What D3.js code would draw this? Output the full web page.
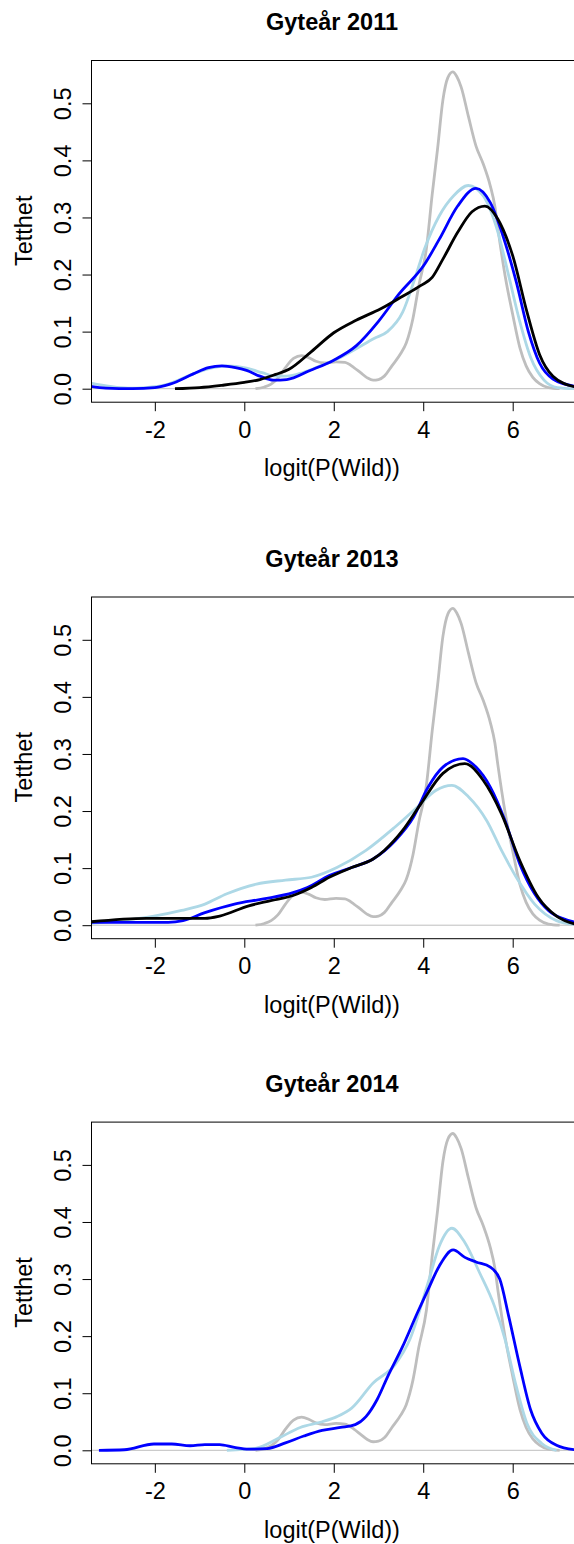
<!DOCTYPE html>
<html>
<head>
<meta charset="utf-8">
<script src="https://cdn.jsdelivr.net/npm/d3@7"></script>
<style>
  body { margin: 0; background: #fff; }
  text { font-family: "Liberation Sans", Arial, sans-serif; }
</style>
</head>
<body>
<div id="chart"></div>
<script>
// values (x = logit(P(Wild)), y = density)
const titles = ['Gyteår 2011', 'Gyteår 2013', 'Gyteår 2014'];
const xTicks = [-2, 0, 2, 4, 6];
const yTicks = [0, 0.1, 0.2, 0.3, 0.4, 0.5];

// grey reference curve, same in every panel
const greyRef = [[0.25,0],[0.45,0.003],[0.6,0.008],[0.75,0.018],[0.92,0.037],[1.1,0.053],[1.28,0.058],
  [1.45,0.054],[1.6,0.048],[1.8,0.045],[2.05,0.047],[2.25,0.046],[2.45,0.037],[2.6,0.028],[2.75,0.019],
  [2.88,0.015],[3.0,0.016],[3.13,0.022],[3.3,0.04],[3.5,0.062],[3.62,0.08],[3.7,0.1],[3.77,0.123],
  [3.9,0.18],[4.07,0.245],[4.2,0.34],[4.32,0.42],[4.44,0.506],[4.55,0.545],[4.66,0.555],[4.75,0.547],
  [4.85,0.528],[5.01,0.477],[5.18,0.425],[5.34,0.394],[5.5,0.355],[5.6,0.32],[5.67,0.28],[5.83,0.198],
  [6.0,0.13],[6.16,0.072],[6.3,0.04],[6.45,0.02],[6.6,0.009],[6.8,0.002],[7.05,0]];

const light2011 = [[-3.43,0.01],[-3.0,0.004],[-2.6,0.001],[-2.2,0.002],[-1.7,0.008],[-1.14,0.026],
  [-0.7,0.037],[-0.39,0.04],[0.05,0.036],[0.4,0.028],[0.7,0.022],[0.95,0.022],[1.3,0.028],[1.7,0.04],
  [2.1,0.053],[2.5,0.07],[2.9,0.088],[3.2,0.1],[3.54,0.134],[3.8,0.19],[4.03,0.245],[4.36,0.303],
  [4.68,0.338],[5.01,0.356],[5.34,0.338],[5.67,0.274],[5.91,0.198],[6.15,0.12],[6.4,0.055],
  [6.7,0.015],[7.0,0.002],[7.4,0]];
const blue2011 = [[-3.43,0.004],[-3.1,0.001],[-2.5,0.0],[-2.0,0.002],[-1.66,0.008],[-1.14,0.026],
  [-0.8,0.037],[-0.5,0.04],[-0.2,0.037],[0.05,0.032],[0.35,0.022],[0.65,0.015],[0.95,0.016],
  [1.47,0.032],[2.0,0.05],[2.5,0.075],[3.0,0.118],[3.46,0.166],[4.03,0.218],[4.36,0.262],[4.77,0.32],
  [5.18,0.351],[5.5,0.326],[5.83,0.256],[6.08,0.187],[6.35,0.1],[6.6,0.045],[6.9,0.017],[7.4,0.004]];
const black2011 = [[-1.55,0.0],[-1.0,0.002],[-0.5,0.006],[0.0,0.011],[0.35,0.016],[0.7,0.025],
  [1.0,0.034],[1.5,0.065],[2.0,0.098],[2.5,0.12],[3.05,0.14],[3.54,0.162],[3.95,0.181],[4.2,0.195],
  [4.44,0.227],[4.77,0.274],[5.09,0.31],[5.38,0.32],[5.67,0.297],[6.0,0.233],[6.32,0.134],
  [6.6,0.06],[6.9,0.022],[7.4,0.003]];

const light2013 = [[-3.43,0.003],[-2.8,0.008],[-2.02,0.016],[-1.4,0.026],[-0.88,0.037],[-0.39,0.055],
  [0.27,0.072],[0.92,0.079],[1.5,0.084],[2.07,0.101],[2.72,0.131],[3.37,0.172],[3.87,0.207],
  [4.28,0.236],[4.64,0.245],[5.01,0.225],[5.42,0.183],[5.75,0.131],[6.08,0.084],[6.49,0.037],
  [6.98,0.008],[7.4,0.001]];
const blue2013 = [[-3.43,0.005],[-2.5,0.005],[-1.7,0.005],[-1.37,0.008],[-0.88,0.022],[-0.22,0.037],
  [0.43,0.046],[1.09,0.057],[1.41,0.066],[1.9,0.087],[2.4,0.101],[2.88,0.116],[3.37,0.148],
  [3.78,0.189],[4.11,0.242],[4.44,0.277],[4.89,0.292],[5.18,0.277],[5.5,0.242],[5.83,0.183],
  [6.16,0.107],[6.49,0.055],[6.81,0.025],[7.14,0.011],[7.4,0.005]];
const black2013 = [[-3.43,0.006],[-2.19,0.012],[-0.88,0.012],[-0.55,0.016],[0.1,0.034],[0.59,0.043],
  [1.09,0.052],[1.5,0.066],[1.9,0.084],[2.4,0.101],[2.88,0.116],[3.13,0.131],[3.54,0.166],
  [3.95,0.213],[4.44,0.266],[4.93,0.283],[5.34,0.254],[5.75,0.195],[6.16,0.113],[6.57,0.049],
  [6.98,0.016],[7.4,0.002]];

const light2014 = [[-0.39,0.0],[0.27,0.004],[0.76,0.021],[1.25,0.04],[1.74,0.05],[2.07,0.059],
  [2.4,0.074],[2.88,0.118],[3.37,0.15],[3.7,0.194],[4.11,0.294],[4.36,0.358],[4.64,0.389],
  [4.93,0.364],[5.26,0.311],[5.59,0.253],[5.83,0.194],[6.08,0.112],[6.32,0.047],[6.65,0.012],
  [6.98,0.0]];
const blue2014 = [[-3.25,0.0],[-2.68,0.001],[-2.02,0.011],[-1.62,0.011],[-1.21,0.008],[-0.88,0.01],
  [-0.55,0.01],[-0.22,0.005],[0.1,0.002],[0.51,0.003],[0.92,0.013],[1.33,0.025],[1.74,0.035],
  [2.15,0.04],[2.48,0.045],[2.72,0.059],[2.97,0.089],[3.21,0.13],[3.54,0.182],[3.87,0.241],
  [4.11,0.282],[4.36,0.323],[4.67,0.351],[4.93,0.338],[5.18,0.33],[5.5,0.321],[5.71,0.3],
  [5.91,0.235],[6.16,0.147],[6.4,0.071],[6.65,0.03],[6.98,0.009],[7.4,0.001]];

const colors = { grey: '#bebebe', light: '#add8e6', blue: '#0000ff', black: '#000000' };

const panels = [
  { title: titles[0], dy: 0,      series: [[greyRef, colors.grey], [light2011, colors.light], [blue2011, colors.blue], [black2011, colors.black]] },
  { title: titles[1], dy: 536.5,  series: [[greyRef, colors.grey], [light2013, colors.light], [blue2013, colors.blue], [black2013, colors.black]] },
  { title: titles[2], dy: 1061.6, series: [[greyRef, colors.grey], [light2014, colors.light], [blue2014, colors.blue]] }
];

const W = 574, H = 1544;
const plotLeft = 91, plotRight = 576;
const fs = 23.5;

const svg = d3.select('#chart').append('svg')
  .attr('width', W).attr('height', H);

const x = d3.scaleLinear().domain([0, 6]).range([244.3, 512.7]);

panels.forEach((p, i) => {
  const g = svg.append('g').attr('transform', 'translate(0,' + p.dy + ')');
  const y = d3.scaleLinear().domain([0, 0.5]).range([388.7, 103.3]);
  const top = 60, bottom = 401.7;

  g.append('text')
    .attr('x', (plotLeft + 573) / 2).attr('y', 30)
    .attr('text-anchor', 'middle')
    .style('font-size', fs + 'px').style('font-weight', 'bold')
    .text(p.title);

  const clipId = 'clip' + i;
  g.append('clipPath').attr('id', clipId)
    .append('rect').attr('x', plotLeft).attr('y', top)
    .attr('width', plotRight - plotLeft).attr('height', bottom - top);

  const plot = g.append('g').attr('clip-path', 'url(#' + clipId + ')');

  // zero line
  plot.append('line')
    .attr('x1', plotLeft).attr('x2', plotRight)
    .attr('y1', y(0)).attr('y2', y(0))
    .attr('stroke', '#bebebe').attr('stroke-width', 1);

  const line = d3.line()
    .x(d => x(d[0])).y(d => y(d[1]))
    .curve(d3.curveMonotoneX);

  p.series.forEach(s => {
    plot.append('path')
      .attr('d', line(s[0]))
      .attr('fill', 'none')
      .attr('stroke', s[1])
      .attr('stroke-width', 2.8)
      .attr('stroke-linejoin', 'round');
  });

  // box
  g.append('rect')
    .attr('x', plotLeft + 0.5).attr('y', top + 0.5)
    .attr('width', plotRight - plotLeft).attr('height', bottom - top)
    .attr('fill', 'none').attr('stroke', '#000').attr('stroke-width', 1);

  // x axis (hyphen minus like R)
  const xa = g.append('g').attr('transform', 'translate(0,' + (bottom + 0.5) + ')')
    .call(d3.axisBottom(x).tickValues(xTicks).tickSize(9).tickFormat(d => String(d)));
  xa.select('.domain').remove();
  xa.selectAll('text').style('font-size', fs + 'px').attr('fill', '#000')
    .attr('dy', 0).attr('y', 35.5);
  xa.selectAll('line').attr('stroke', '#000');

  // y axis
  const ya = g.append('g').attr('transform', 'translate(' + (plotLeft + 0.5) + ',0)')
    .call(d3.axisLeft(y).tickValues(yTicks).tickSize(9).tickFormat(d3.format('.1f')));
  ya.select('.domain').remove();
  ya.selectAll('line').attr('stroke', '#000');
  ya.selectAll('text')
    .style('font-size', fs + 'px').attr('fill', '#000')
    .attr('text-anchor', 'middle')
    .attr('x', null).attr('dy', null)
    .attr('transform', 'translate(-21,0) rotate(-90)')
    .attr('y', 0);

  g.append('text')
    .attr('x', (plotLeft + 573) / 2).attr('y', 476)
    .attr('text-anchor', 'middle')
    .style('font-size', fs + 'px')
    .text('logit(P(Wild))');

  g.append('text')
    .attr('transform', 'translate(31.7,' + ((top + bottom) / 2) + ') rotate(-90)')
    .attr('text-anchor', 'middle')
    .style('font-size', fs + 'px')
    .text('Tetthet');
});
</script>
</body>
</html>
